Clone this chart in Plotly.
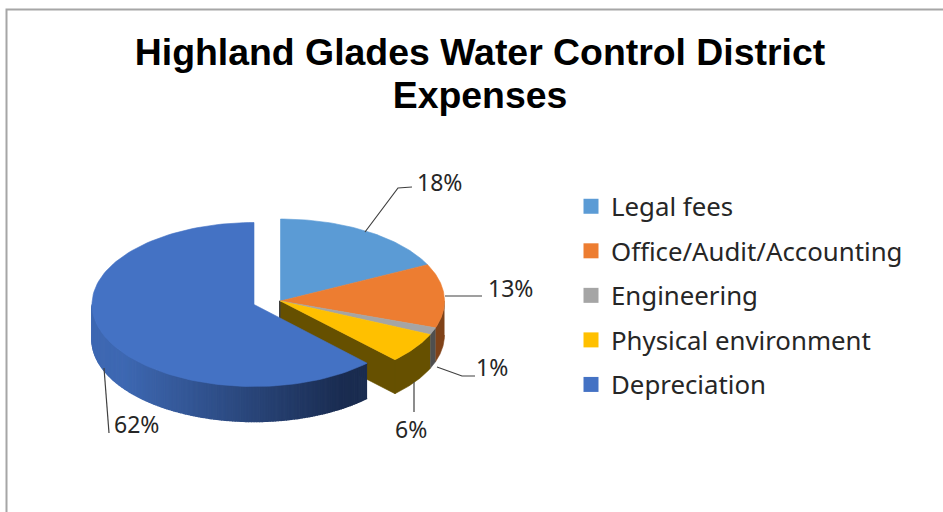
import numpy as np
import plotly.graph_objects as go

categories = ["Legal fees", "Office/Audit/Accounting", "Engineering", "Physical environment", "Depreciation"]
values = [17.7, 12.6, 1.4, 6.0, 62.3]
title_text = "Highland Glades Water Control District<br>Expenses"

top_colors = ["#5B9BD5", "#ED7D31", "#A5A5A5", "#FFC000", "#4472C4"]
side_colors = ["#3A6A96", "#7F4218", "#4F4F4F", "#665000", "#1A2C50"]

# pie geometry in page pixels (the axes map 1:1 on the page)
CX, CY, RX, RY, DEPTH = 280.5, 301, 164, 82, 34
EX_CX, EX_CY, EX_RX, EX_RY, EX_DEPTH = 254, 304.5, 162, 82, 35

W, H = 943, 512
fig = go.Figure()


def arc(cx, cy, rx, ry, a0, a1, n=60):
    t = np.radians(np.linspace(a0, a1, n))
    return cx + rx * np.sin(t), cy - ry * np.cos(t)


def poly(x, y, color, width=0.6):
    fig.add_trace(go.Scatter(x=list(x), y=list(y), mode="lines", fill="toself", fillcolor=color,
                             line=dict(color=color, width=width), hoverinfo="skip", showlegend=False))


total = sum(values)
edges = np.cumsum([0] + values) / total * 360

# back wall under the legal-fees cut
poly([CX - 1.5, CX + 1, CX + 1, CX - 1.5], [CY, CY, CY + DEPTH - 16, CY + DEPTH - 16], "#3F3F3F")

# outer walls of the three slices sitting on the right
for i in [1, 2, 3]:
    a0, a1 = edges[i], edges[i + 1]
    a0v = max(a0, 90)
    x, y = arc(CX, CY, RX, RY, a0v, a1)
    poly(np.r_[x, x[::-1]], np.r_[y, y[::-1] + DEPTH], side_colors[i])

# cut wall of the physical environment slice
xe, ye = arc(CX, CY, RX, RY, edges[4], edges[4], 1)
poly([CX, xe[0], xe[0], CX], [CY, ye[0], ye[0] + DEPTH, CY + DEPTH], side_colors[3])

# top faces of the four slices
for i in range(4):
    x, y = arc(CX, CY, RX, RY, edges[i], edges[i + 1])
    poly(np.r_[CX, x, CX], np.r_[CY, y, CY], top_colors[i])

# exploded depreciation slice: shaded wall, then top face
a0, a1 = edges[4], 270
x_right = EX_CX + EX_RX * np.sin(np.radians(a0))
x_left = EX_CX - EX_RX
steps = np.linspace(a0, a1, 141)
c_dark = np.array([0x1A, 0x2C, 0x50])
c_light = np.array([0x3E, 0x68, 0xB2])
for s0, s1 in zip(steps[:-1], steps[1:]):
    x, y = arc(EX_CX, EX_CY, EX_RX, EX_RY, s0, s1, 3)
    f = np.clip((x_right - x.mean()) / (x_right - x_left), 0, 1)
    f = np.clip(f * 1.25 - 0.1, 0, 1)
    c = c_dark + (c_light - c_dark) * f
    poly(np.r_[x, x[::-1]], np.r_[y, y[::-1] + EX_DEPTH], "rgb(%d,%d,%d)" % tuple(c), width=1.5)
x, y = arc(EX_CX, EX_CY, EX_RX, EX_RY, edges[4], edges[5], 120)
poly(np.r_[EX_CX, x, EX_CX], np.r_[EX_CY, y, EX_CY], top_colors[4])

# legend entries
for name, color in zip(categories, top_colors):
    fig.add_trace(go.Scatter(x=[None], y=[None], mode="markers", name=name, legendgroup=name,
                             marker=dict(symbol="square", size=15, color=color)))

# leader lines
leaders = [
    ([365, 398, 412], [232, 188, 187]),
    ([445, 482], [296, 296]),
    ([437, 462, 475], [367, 376, 376]),
    ([414, 414], [382, 412]),
    ([104, 109], [368, 433]),
]
for lx, ly in leaders:
    fig.add_trace(go.Scatter(x=lx, y=ly, mode="lines", line=dict(color="#404040", width=1.2),
                             hoverinfo="skip", showlegend=False))

label_pos = [(439, 182), (510, 288), (492, 367), (411, 429), (136, 424)]
annotations = [
    dict(x=px, y=py, xref="x", yref="y", text=f"{v:.0f}%", showarrow=False,
         font=dict(family="Noto Sans, sans-serif", size=23, color="#262626"))
    for (px, py), v in zip(label_pos, values)
]

TITLE_SIZE = 37.4
fig.update_layout(
    width=W, height=H, margin=dict(l=0, r=0, t=0, b=0),
    paper_bgcolor="white", plot_bgcolor="white",
    title=dict(text=title_text, x=480 / W, xanchor="center", y=1 - 65 / H, yanchor="top",
               font=dict(family="Liberation Sans, Arial, sans-serif", size=TITLE_SIZE, color="black", weight="bold")),
    xaxis=dict(range=[0, W], visible=False, fixedrange=True),
    yaxis=dict(range=[H, 0], visible=False, fixedrange=True),
    legend=dict(x=571 / W, y=1 - 183 / H, xanchor="left", yanchor="top", tracegroupgap=8,
                font=dict(family="Noto Sans, sans-serif", size=25.8, color="#262626"),
                bgcolor="rgba(0,0,0,0)"),
    annotations=annotations,
    shapes=[dict(type="path", path=f"M 6.5 {H} L 6.5 9.5 L {W} 9.5", xref="x", yref="y",
                 line=dict(color="#A6A6A6", width=2))],
)
post = """
document.documentElement.style.overflow='hidden';
document.body.style.margin='0';
var gd=document.getElementById('{plot_id}');
function tighten(){var l=document.querySelectorAll('.gtitle tspan.line');
 if(l.length>1){l[1].setAttribute('dy','%fem');}}
tighten(); if(gd.on){gd.on('plotly_afterplot',tighten);} setTimeout(tighten,50);
""" % (43 / TITLE_SIZE)
fig.write_html("out.html", config=dict(displayModeBar=False), post_script=post)
